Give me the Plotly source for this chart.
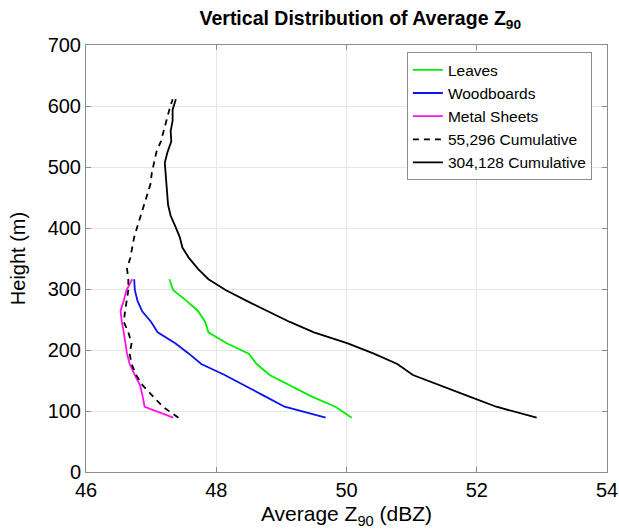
import plotly.graph_objects as go

# Heights (m) of gates
heights_short = [89, 107, 124, 142, 159, 177, 194, 211, 229, 246, 264, 281, 298, 316]
heights_long = [89, 107, 124, 142, 159, 177, 194, 211, 229, 246, 264, 281, 298, 316,
                333, 351, 368, 385, 403, 420, 438, 455, 472, 490, 507, 524, 542, 559,
                576, 594, 611]

leaves = [50.08, 49.83, 49.46, 49.13, 48.82, 48.62, 48.50, 48.16, 47.88, 47.83,
          47.72, 47.54, 47.34, 47.28]
woodboards = [49.68, 49.05, 48.75, 48.44, 48.13, 47.77, 47.58, 47.37, 47.10, 47.00,
              46.86, 46.79, 46.75, 46.74]
metal_sheets = [47.34, 46.90, 46.87, 46.83, 46.75, 46.67, 46.63, 46.61, 46.58, 46.55,
                46.53, 46.58, 46.62, 46.71]
cum_55296 = [47.42, 47.18, 47.03, 46.87, 46.77, 46.70, 46.67, 46.70, 46.65, 46.58,
             46.60, 46.62, 46.65, 46.65, 46.63, 46.68, 46.71, 46.74, 46.79, 46.84,
             46.90, 46.94, 46.99, 47.01, 47.05, 47.08, 47.15, 47.19, 47.24, 47.28, 47.33]
cum_304128 = [52.92, 52.30, 51.88, 51.45, 51.02, 50.78, 50.42, 50.02, 49.50, 49.13,
              48.78, 48.46, 48.15, 47.88, 47.72, 47.58, 47.48, 47.44, 47.37, 47.30,
              47.26, 47.25, 47.23, 47.22, 47.21, 47.25, 47.31, 47.30, 47.33, 47.33, 47.38]

x_ticks = [46, 48, 50, 52, 54]
y_ticks = [0, 100, 200, 300, 400, 500, 600, 700]

FONT = "Liberation Sans, Arial, Helvetica, sans-serif"

fig = go.Figure()
fig.add_trace(go.Scatter(x=leaves, y=heights_short, mode="lines", name="Leaves",
                         line=dict(color="#00ee00", width=1.8)))
fig.add_trace(go.Scatter(x=woodboards, y=heights_short, mode="lines", name="Woodboards",
                         line=dict(color="#0a14f0", width=1.8)))
fig.add_trace(go.Scatter(x=metal_sheets, y=heights_short, mode="lines", name="Metal Sheets",
                         line=dict(color="#ff11ee", width=1.8)))
fig.add_trace(go.Scatter(x=cum_55296, y=heights_long, mode="lines", name="55,296 Cumulative",
                         line=dict(color="black", width=1.8, dash="6px,5px")))
fig.add_trace(go.Scatter(x=cum_304128, y=heights_long, mode="lines", name="304,128 Cumulative",
                         line=dict(color="black", width=1.8)))

axis_common = dict(showline=True, linecolor="#8c8c8c", linewidth=1, mirror="ticks",
                   ticks="inside", ticklen=5, tickcolor="#8c8c8c",
                   showgrid=True, gridcolor="#e6e6e6", gridwidth=1, zeroline=False,
                   automargin=False,
                   tickfont=dict(size=20, color="black", family=FONT))

fig.update_xaxes(range=[46, 54], tickvals=x_ticks,
                 title=dict(text="Average Z<sub>90</sub> (dBZ)", font=dict(size=21, color="black", family=FONT),
                            standoff=6),
                 **axis_common)
fig.update_yaxes(range=[0, 700], tickvals=y_ticks,
                 title=dict(text="Height (m)", font=dict(size=20, color="black", family=FONT),
                            standoff=16),
                 **axis_common)

fig.update_layout(
    width=619, height=530,
    margin=dict(l=86, r=12, t=45, b=58),
    paper_bgcolor="white", plot_bgcolor="white",
    font=dict(family=FONT, color="black"),
    title=dict(text="<b>Vertical Distribution of Average Z<sub>90</sub></b>",
               x=0.582, xanchor="center", y=0.978, yanchor="top",
               font=dict(size=19.5, color="black", family=FONT)),
    legend=dict(x=0.971, y=0.983, xanchor="right", yanchor="top",
                bgcolor="white", bordercolor="#8c8c8c", borderwidth=1,
                font=dict(size=15.5, color="black", family=FONT),
                itemwidth=30, tracegroupgap=0),
    showlegend=True,
)

fig.write_html("out.html")
